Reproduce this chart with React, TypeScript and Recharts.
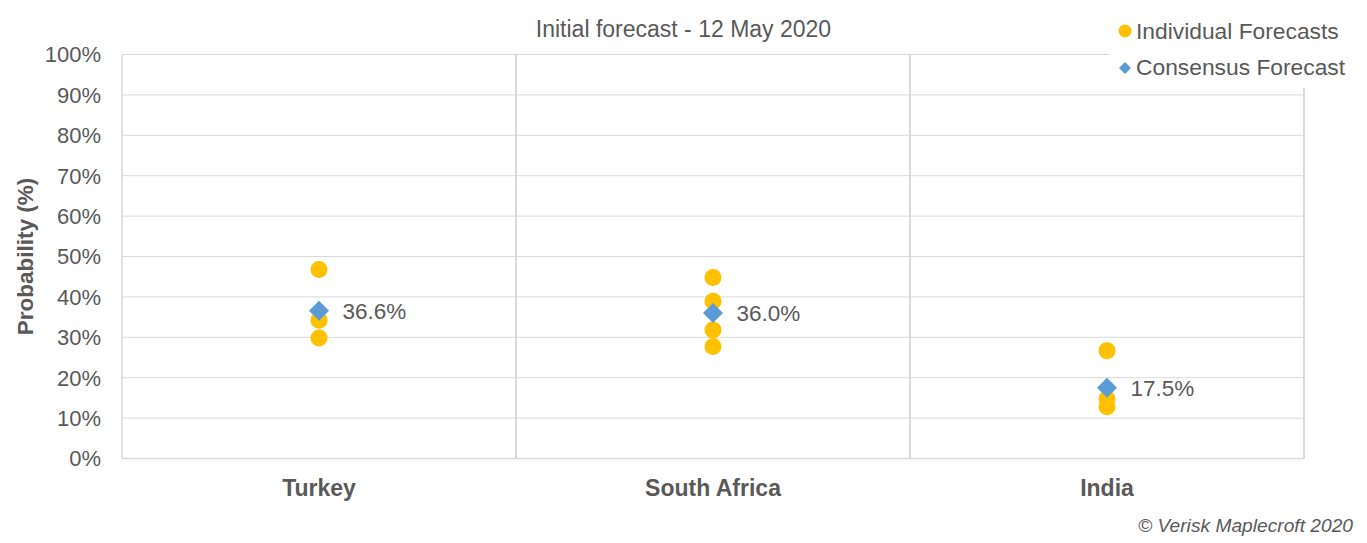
import React from "react";
import { ScatterChart, Scatter, XAxis, YAxis, CartesianGrid, ReferenceLine, LabelList, Label, Legend } from "recharts";

const categories = ["Turkey", "South Africa", "India"];
const individualValues = [
  [46.8, 34.2, 29.8],
  [44.8, 38.9, 31.8, 27.7],
  [26.7, 14.8, 12.8],
];
const consensusValues = [36.6, 36.0, 17.5];
const yTicks = [0, 10, 20, 30, 40, 50, 60, 70, 80, 90, 100];
const separators = [1, 2, 3];
const categoryTicks = [0.5, 1.5, 2.5];

const individualData = individualValues.flatMap((vals, i) =>
  vals.map((v) => ({ x: i + 0.5, y: v }))
);
const consensusData = consensusValues.map((v, i) => ({ x: i + 0.5, y: v, label: v.toFixed(1) + "%" }));

const FONT = "'Liberation Sans', Arial, sans-serif";
const TEXT = "#595959";
const GRID = "#D9D9D9";
const GOLD = "#FFC000";
const BLUE = "#5B9BD5";

const Circle = (p: any) => <circle cx={p.cx} cy={p.cy} r={8.5} fill={GOLD} />;
const Diamond = (p: any) => (
  <path d={`M${p.cx} ${p.cy - 10}L${p.cx + 10} ${p.cy}L${p.cx} ${p.cy + 10}L${p.cx - 10} ${p.cy}Z`} fill={BLUE} />
);

const LegendBox = () => (
  <div style={{ position: "relative", width: 258, height: 88, background: "#fff", fontFamily: FONT, fontSize: 22.8, color: TEXT }}>
    <svg width={30} height={88} style={{ position: "absolute", left: 0, top: 0 }}>
      <circle cx={16} cy={31} r={6.5} fill={GOLD} />
      <path d="M16 62L22 68L16 74L10 68Z" fill={BLUE} />
    </svg>
    <div style={{ position: "absolute", left: 27, top: 18, whiteSpace: "nowrap", lineHeight: "26px" }}>Individual Forecasts</div>
    <div style={{ position: "absolute", left: 27, top: 54, whiteSpace: "nowrap", lineHeight: "26px" }}>Consensus Forecast</div>
  </div>
);

export default function App() {
  return (
    <div style={{ position: "absolute", left: 0, top: 0, width: 1367, height: 543, background: "#fff", overflow: "hidden" }}>
      <ScatterChart width={1367} height={543} margin={{ top: 54.5, right: 63, bottom: 0, left: 0 }}>
        <CartesianGrid horizontal vertical={false} stroke={GRID} strokeWidth={1} />
        <XAxis
          type="number"
          dataKey="x"
          domain={[0, 3]}
          ticks={categoryTicks}
          tickFormatter={(v: number) => categories[Math.floor(v)]}
          axisLine={{ stroke: GRID, strokeWidth: 1.5 }}
          tickLine={false}
          height={84.5}
          tickMargin={15}
          tick={{ fill: TEXT, fontFamily: FONT, fontSize: 23, fontWeight: 700 }}
        />
        <YAxis
          type="number"
          dataKey="y"
          domain={[0, 100]}
          ticks={yTicks}
          interval={0}
          tickFormatter={(v: number) => v + "%"}
          axisLine={{ stroke: GRID, strokeWidth: 1.5 }}
          tickLine={false}
          width={122}
          tickMargin={15}
          tick={{ fill: TEXT, fontFamily: FONT, fontSize: 22 }}
        >
          <Label
            value="Probability (%)"
            angle={-90}
            position="insideLeft"
            offset={0}
            dx={25}
            style={{ fill: TEXT, fontFamily: FONT, fontSize: 22.5, fontWeight: 700, textAnchor: "middle" }}
          />
        </YAxis>
        {separators.map((s) => (
          <ReferenceLine key={s} x={s} stroke={GRID} strokeWidth={2} />
        ))}
        <Legend
          content={<LegendBox />}
          layout="vertical"
          verticalAlign="middle"
          align="center"
          wrapperStyle={{ position: "absolute", left: 1109, top: 0, width: 258, height: 88, margin: 0, padding: 0 }}
        />
        <Scatter name="Individual Forecasts" data={individualData} shape={Circle} isAnimationActive={false} />
        <Scatter name="Consensus Forecast" data={consensusData} shape={Diamond} isAnimationActive={false}>
          <LabelList
            dataKey="label"
            position="right"
            offset={19}
            style={{ fill: TEXT, fontFamily: FONT, fontSize: 22.5 }}
          />
        </Scatter>
      </ScatterChart>
      <div style={{ position: "absolute", left: 0, width: 1367, top: 16, textAlign: "center", fontFamily: FONT, fontSize: 23, lineHeight: "26px", color: TEXT, whiteSpace: "nowrap" }}>
        Initial forecast - 12 May 2020
      </div>
      <div style={{ position: "absolute", right: 14, top: 515, fontFamily: FONT, fontSize: 19.2, fontStyle: "italic", lineHeight: "22px", color: TEXT, whiteSpace: "nowrap" }}>
        © Verisk Maplecroft 2020
      </div>
    </div>
  );
}
